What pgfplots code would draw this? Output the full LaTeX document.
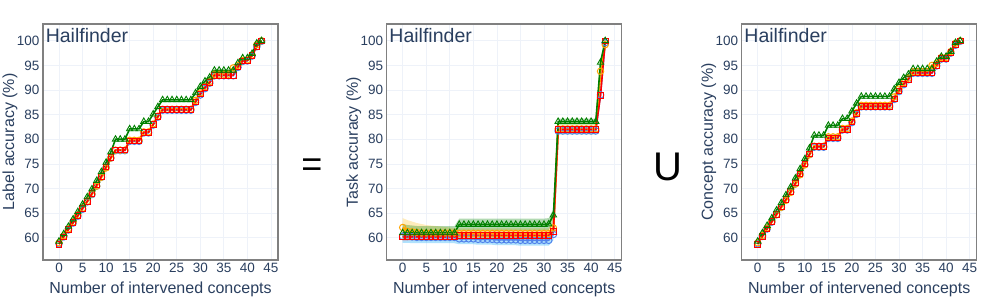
\documentclass[border=0pt]{standalone}
\usepackage{pgfplots}
\usepackage{pgfplotstable}
\pgfplotsset{compat=1.18}
\usepackage{fontspec}
\setmainfont{Liberation Sans}
\definecolor{txt}{HTML}{2A3F5F}
\definecolor{gridc}{HTML}{EEF2F9}
\definecolor{cb}{RGB}{80,130,235}
\definecolor{cbband}{RGB}{80,190,250}
\definecolor{cr}{RGB}{255,0,0}
\definecolor{co}{RGB}{255,165,0}
\definecolor{coband}{RGB}{255,200,60}
\definecolor{cg}{RGB}{0,128,0}

% Label accuracy
\pgfplotstableread{
x b r o g
0 58.8 58.7 59.0 59.3
1 60.2 60.2 60.4 60.8
2 61.6 61.7 61.8 62.3
3 63.0 63.1 63.2 63.8
4 64.4 64.5 64.6 65.3
5 65.8 66.0 66.0 66.8
6 67.3 67.4 67.4 68.3
7 68.8 69.0 68.9 69.9
8 70.5 70.7 70.5 71.6
9 72.3 72.5 72.3 73.4
10 74.3 74.4 74.2 75.3
11 76.2 76.3 76.2 77.4
12 77.7 77.8 77.8 80.0
13 77.7 77.8 77.8 80.0
14 77.7 77.8 77.8 80.0
15 79.6 79.7 79.8 82.1
16 79.6 79.7 79.8 82.1
17 79.6 79.7 79.8 82.1
18 81.3 81.4 81.5 83.6
19 81.3 81.4 81.5 83.6
20 82.9 83.0 83.1 85.1
21 84.5 84.6 84.7 86.6
22 85.9 86.0 86.1 88.0
23 85.9 86.0 86.1 88.0
24 85.9 86.0 86.1 88.0
25 85.9 86.0 86.1 88.0
26 85.9 86.0 86.1 88.0
27 85.9 86.0 86.1 88.0
28 85.9 86.0 86.1 88.0
29 87.5 87.6 87.9 89.4
30 89.0 89.2 89.4 90.7
31 90.3 90.5 90.7 91.8
32 91.4 91.5 91.7 92.6
33 92.9 93.0 93.2 94.0
34 92.9 93.0 93.2 94.0
35 92.9 93.0 93.2 94.0
36 92.9 93.0 93.2 94.0
37 92.9 93.0 94.5 94.0
38 94.6 94.7 95.0 95.5
39 95.8 95.9 96.0 96.5
40 95.9 96.0 96.1 96.5
41 96.9 97.0 97.1 97.4
42 98.8 98.9 99.2 99.5
43 99.9 100.0 100.0 100.0
}\Tl

% Task accuracy (means)
\pgfplotstableread{
x bm rm om gm
0 60.3 60.2 62.1 61.0
1 60.3 60.2 61.3 61.0
2 60.2 60.2 61.2 61.0
3 60.1 60.2 61.1 61.0
4 60.1 60.2 61.0 61.0
5 60.1 60.2 61.0 61.0
6 60.1 60.2 61.0 61.0
7 60.1 60.2 61.0 61.0
8 60.1 60.2 61.0 61.0
9 60.1 60.2 61.0 61.0
10 60.1 60.2 61.0 61.0
11 60.1 60.2 61.0 61.0
12 59.8 60.5 60.9 62.7
13 59.8 60.5 60.9 62.7
14 59.8 60.5 60.9 62.7
15 59.8 60.5 60.9 62.7
16 59.7 60.5 60.9 62.7
17 59.7 60.5 60.9 62.7
18 59.7 60.5 60.9 62.7
19 59.7 60.5 60.9 62.7
20 59.6 60.5 60.9 62.7
21 59.6 60.5 60.9 62.7
22 59.6 60.5 60.9 62.7
23 59.6 60.5 60.9 62.7
24 59.6 60.5 60.9 62.7
25 59.5 60.5 60.9 62.7
26 59.5 60.5 60.9 62.7
27 59.5 60.5 60.9 62.7
28 59.5 60.5 60.9 62.7
29 59.5 60.5 60.9 62.7
30 59.5 60.5 60.9 62.7
31 59.5 60.5 60.9 62.8
32 60.7 61.3 62.0 64.6
33 81.7 82.0 82.1 83.6
34 81.7 82.0 82.1 83.6
35 81.7 82.0 82.1 83.6
36 81.7 82.0 82.1 83.6
37 81.7 82.0 82.1 83.6
38 81.7 82.0 82.1 83.6
39 81.7 82.0 82.1 83.6
40 81.7 82.0 82.1 83.6
41 81.7 82.0 82.1 83.6
42 89.0 88.9 93.8 95.6
43 99.6 100.0 99.2 100.0
}\Tt

% Concept accuracy
\pgfplotstableread{
x b r o g
0 58.8 58.7 59.0 59.3
1 60.3 60.3 60.5 61.0
2 61.8 61.8 62.0 62.5
3 63.2 63.3 63.3 64.0
4 64.7 64.8 64.7 65.6
5 66.2 66.3 66.2 67.1
6 67.7 67.8 67.6 68.7
7 69.3 69.4 69.2 70.3
8 71.0 71.1 70.9 72.1
9 72.9 73.0 72.8 74.0
10 74.9 75.0 74.8 76.0
11 76.9 77.0 76.9 78.2
12 78.4 78.5 78.6 80.8
13 78.4 78.5 78.6 80.8
14 78.4 78.5 78.6 80.8
15 80.2 80.3 80.5 82.8
16 80.2 80.3 80.5 82.8
17 80.2 80.3 80.5 82.8
18 81.9 82.0 82.2 84.2
19 81.9 82.0 82.2 84.2
20 83.4 83.5 83.7 85.7
21 85.1 85.2 85.4 87.3
22 86.6 86.7 86.9 88.7
23 86.6 86.7 86.9 88.7
24 86.6 86.7 86.9 88.7
25 86.6 86.7 86.9 88.7
26 86.6 86.7 86.9 88.7
27 86.6 86.7 86.9 88.7
28 86.6 86.7 86.9 88.7
29 88.1 88.2 88.6 90.2
30 89.7 89.8 90.2 91.5
31 91.1 91.2 91.5 92.5
32 92.1 92.2 92.4 93.2
33 93.4 93.5 93.7 94.3
34 93.4 93.5 93.7 94.3
35 93.4 93.5 93.7 94.3
36 93.4 93.5 93.7 94.3
37 93.4 93.5 95.0 94.3
38 94.9 95.0 95.4 95.8
39 96.3 96.4 96.6 96.8
40 96.3 96.4 96.6 96.8
41 97.5 97.6 97.8 97.8
42 99.1 99.2 99.5 99.6
43 99.9 100.0 100.0 100.0
}\Tc

\pgfplotsset{
  panel/.style={
    scale only axis, width=235bp, height=236bp,
    xmin=-3.4, xmax=46.5, ymin=55.5, ymax=103.4,
    xtick={0,5,...,45}, ytick={60,65,...,100},
    grid=major, major grid style={draw=gridc, line width=0.8bp},
    axis line style={draw=gray, line width=1.2bp},
    tick style={draw=none},
    /pgf/number format/assume math mode=true,
    ticklabel style={font=\fontsize{13.5bp}{16bp}\selectfont, text=txt},
    label style={font=\fontsize{16bp}{19bp}\selectfont, text=txt},
    xlabel={Number of intervened concepts},
    x label style={at={(axis description cs:0.5,-0.123)}, anchor=center},
    y label style={at={(axis description cs:-0.14,0.5)}, anchor=center},
  },
  sb/.style={cb, line width=1.5bp, mark=o, mark size=3.3bp, mark options={line width=1bp, fill=none}},
  sr/.style={cr, line width=1.6bp, mark=square, mark size=2.8bp, mark options={line width=0.9bp, fill=none}},
  so/.style={co, line width=2.2bp, mark=o, mark size=3.2bp, mark options={line width=1bp, fill=none}},
  sg/.style={cg, line width=1.6bp, mark=triangle, mark size=3.6bp, mark options={line width=0.9bp, fill=none}},
}
\newcommand{\hail}{\node[anchor=north west, inner sep=0pt, font=\fontsize{19.5bp}{22bp}\selectfont, text=txt] at (axis description cs:0.011,0.984) {Hailfinder};}

\begin{document}
\begin{tikzpicture}
\useasboundingbox (0,0) rectangle (996bp,298bp);

\begin{axis}[panel, at={(43bp,38bp)}, anchor=south west, ylabel={Label accuracy (\%)}]
\addplot[sb] table[x=x,y=b]{\Tl};
\addplot[so] table[x=x,y=o]{\Tl};
\addplot[sr] table[x=x,y=r]{\Tl};
\addplot[sg] table[x=x,y=g]{\Tl};
\hail
\end{axis}

\begin{axis}[panel, at={(386.7bp,38bp)}, anchor=south west, ylabel={Task accuracy (\%)}]
% bands: upper edge forward, lower edge back
\addplot[fill=cbband, fill opacity=0.45, draw=none] coordinates {
(0,61.2)(1,61.2)(2,61.1)(3,61.0)(11,61.0)(12,60.9)(15,60.9)(16,60.8)(19,60.8)(20,60.7)(24,60.7)(25,60.6)(31,60.6)(32,62.0)(33,82.4)(41,82.4)(42,89.7)(43,100.0)
(43,99.2)(42,88.3)(41,81.0)(33,81.0)(32,59.5)(31,58.4)(25,58.4)(24,58.5)(20,58.5)(19,58.6)(16,58.6)(15,58.7)(12,58.7)(11,58.9)(2,58.9)(1,59.0)(0,59.0)} -- cycle;
\addplot[fill=cr, fill opacity=0.15, draw=none] coordinates {
(0,61.5)(1,61.3)(2,61.2)(3,61.0)(11,61.0)(12,61.4)(31,61.4)(32,62.4)(33,82.6)(41,82.6)(42,89.6)(43,100.3)
(43,99.6)(42,88.2)(41,81.4)(33,81.4)(32,60.2)(31,59.6)(12,59.6)(11,59.5)(2,59.5)(1,59.4)(0,59.3)} -- cycle;
\addplot[fill=coband, fill opacity=0.35, draw=none] coordinates {
(0,64.0)(1,63.6)(2,63.3)(3,63.0)(4,62.8)(5,62.6)(6,62.5)(7,62.4)(8,62.3)(9,62.2)(10,62.1)(11,62.0)(12,61.9)(31,61.9)(32,63.2)(33,83.0)(41,83.0)(42,94.8)(43,99.7)
(43,98.7)(42,92.8)(41,81.0)(33,81.0)(32,60.8)(31,60.0)(3,60.0)(2,59.9)(1,59.8)(0,59.5)} -- cycle;
\addplot[fill=cg, fill opacity=0.3, draw=none] coordinates {
(0,62.8)(1,62.6)(2,62.5)(3,62.4)(11,62.4)(12,63.9)(30,63.9)(31,64.0)(32,65.9)(33,84.2)(41,84.2)(42,96.3)(43,100.3)
(43,99.7)(42,94.9)(41,83.0)(33,83.0)(32,63.3)(31,61.6)(30,61.5)(12,61.5)(11,60.0)(3,60.0)(2,59.9)(1,59.9)(0,59.8)} -- cycle;
\addplot[sb] table[x=x,y=bm]{\Tt};
\addplot[so] table[x=x,y=om]{\Tt};
\addplot[sr] table[x=x,y=rm]{\Tt};
\addplot[sg] table[x=x,y=gm]{\Tt};
\hail
\end{axis}

\begin{axis}[panel, at={(741.7bp,38bp)}, anchor=south west, ylabel={Concept accuracy (\%)}]
\addplot[sb] table[x=x,y=b]{\Tc};
\addplot[so] table[x=x,y=o]{\Tc};
\addplot[sr] table[x=x,y=r]{\Tc};
\addplot[sg] table[x=x,y=g]{\Tc};
\hail
\end{axis}

\node[font=\fontsize{36bp}{40bp}\selectfont] at (312bp,130bp) {=};
\node[font=\fontsize{40bp}{44bp}\selectfont] at (668bp,131bp) {U};
\end{tikzpicture}
\end{document}
